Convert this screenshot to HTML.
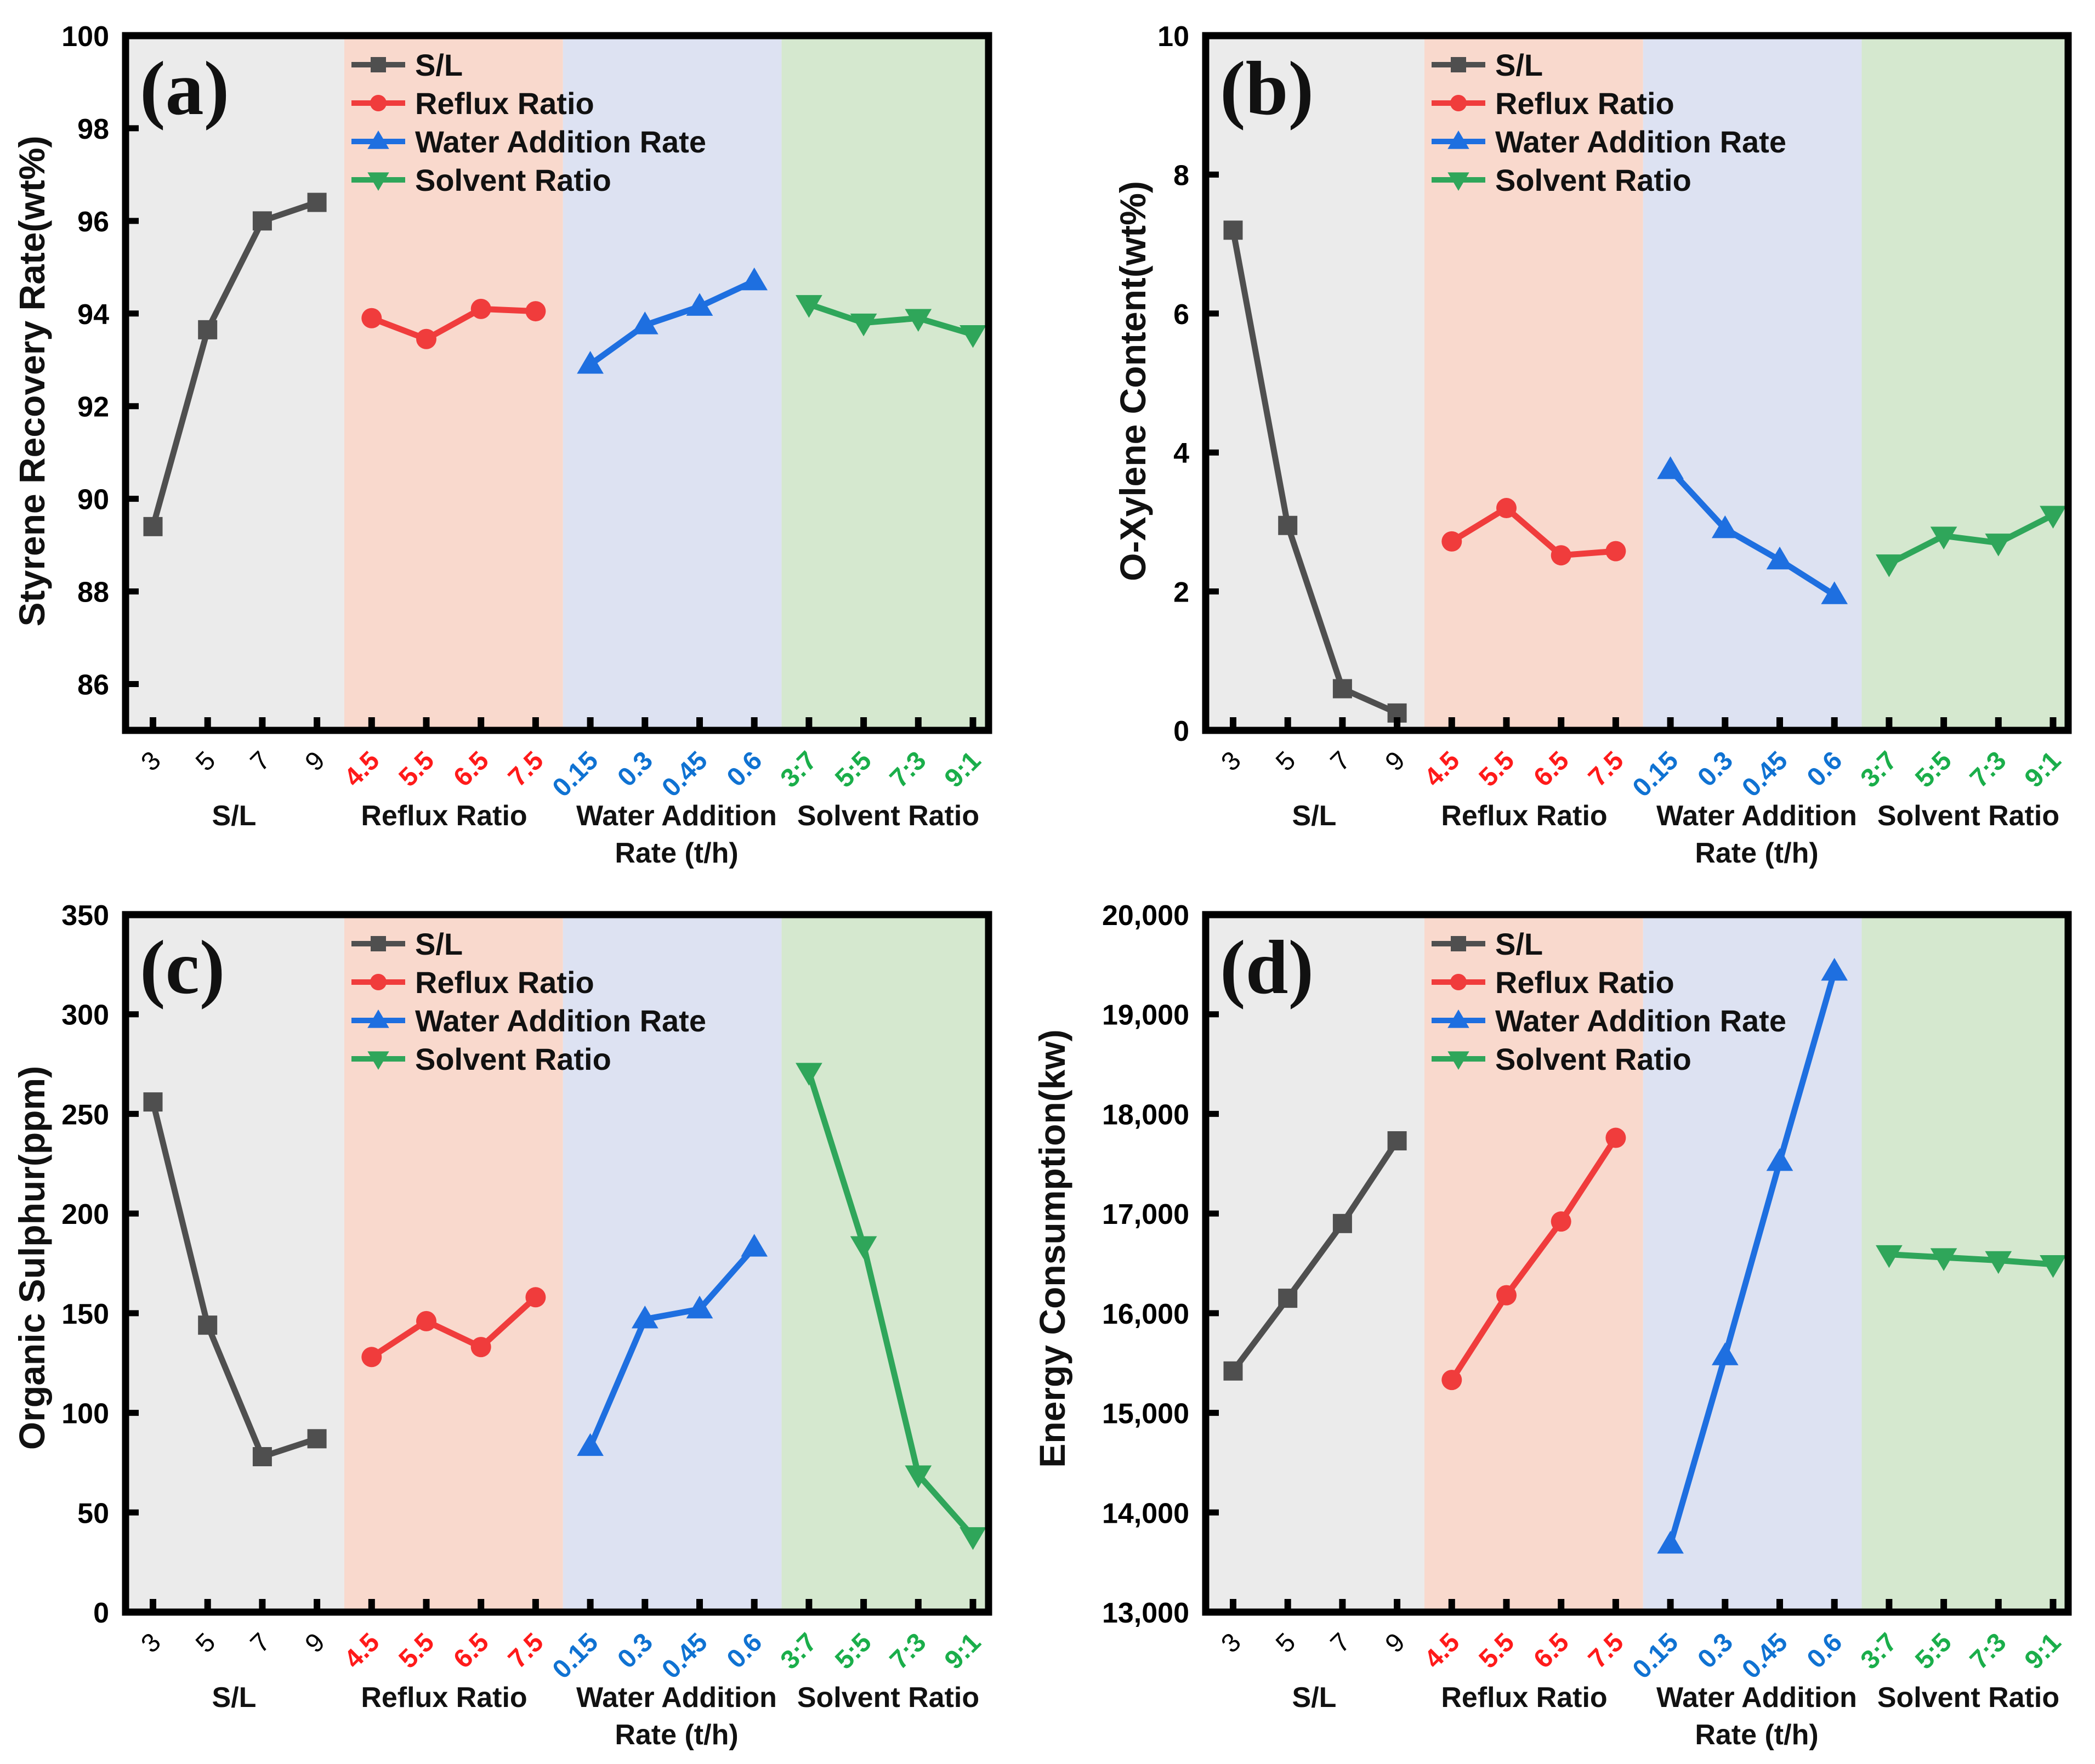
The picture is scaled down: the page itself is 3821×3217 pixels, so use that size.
<!DOCTYPE html>
<html><head><meta charset="utf-8"><style>
html,body{margin:0;padding:0;background:#fff;}
svg{display:block;font-family:"Liberation Sans",Arial,sans-serif;}
</style></head>
<body>
<svg id="fig" width="3821" height="3217" viewBox="0 0 3821 3217" xmlns="http://www.w3.org/2000/svg"></svg>
<script>
// ---- shared category data ----
const xLabels = ["3","5","7","9","4.5","5.5","6.5","7.5","0.15","0.3","0.45","0.6","3:7","5:5","7:3","9:1"];
const groupNames = ["S/L","Reflux Ratio","Water Addition","Solvent Ratio"];
const seriesNames = ["S/L","Reflux Ratio","Water Addition Rate","Solvent Ratio"];
// ---- panel (a) Styrene recovery rate ----
const aSL = [89.4, 93.65, 96.0, 96.4];
const aReflux = [93.9, 93.45, 94.1, 94.05];
const aWater = [92.9, 93.75, 94.15, 94.7];
const aSolvent = [94.2, 93.8, 93.9, 93.55];
const aTicks = [86, 88, 90, 92, 94, 96, 98, 100];
const aTickLabels = ["86","88","90","92","94","96","98","100"];
// ---- panel (b) O-xylene content ----
const bSL = [7.2, 2.95, 0.6, 0.25];
const bReflux = [2.72, 3.2, 2.52, 2.58];
const bWater = [3.75, 2.9, 2.45, 1.95];
const bSolvent = [2.4, 2.8, 2.7, 3.1];
const bTicks = [0, 2, 4, 6, 8, 10];
const bTickLabels = ["0","2","4","6","8","10"];
// ---- panel (c) organic sulphur ----
const cSL = [256, 144, 78, 87];
const cReflux = [128, 146, 133, 158];
const cWater = [83, 147, 152, 183];
const cSolvent = [271, 184, 69, 38];
const cTicks = [0, 50, 100, 150, 200, 250, 300, 350];
const cTickLabels = ["0","50","100","150","200","250","300","350"];
// ---- panel (d) energy consumption ----
const dSL = [15420, 16150, 16900, 17730];
const dReflux = [15330, 16180, 16920, 17760];
const dWater = [13680, 15570, 17520, 19430];
const dSolvent = [16590, 16560, 16530, 16490];
const dTicks = [13000, 14000, 15000, 16000, 17000, 18000, 19000, 20000];
const dTickLabels = ["13,000","14,000","15,000","16,000","17,000","18,000","19,000","20,000"];

const NS = "http://www.w3.org/2000/svg";
const svg = document.getElementById("fig");
const lineCols = ["#4f4f4f","#f03c3c","#1e6fe0","#2fa65a"];
const labCols = ["#000000","#ff1a1a","#0f72d2","#1aae4a"];
const bandCols = ["#ebebeb","#f9d9cd","#dde2f2","#d5e8cf"];
const markers = ["square","circle","up","down"];

function mk(tag, attrs, parent){
  const e = document.createElementNS(NS, tag);
  for (const k in attrs) e.setAttribute(k, attrs[k]);
  (parent||svg).appendChild(e);
  return e;
}
function marker(g, type, x, y, s, col){
  let e;
  if (type==="square"){ e = mk("rect",{x:x-s/2,y:y-s/2,width:s,height:s,fill:col},g); }
  else if (type==="circle"){ e = mk("circle",{cx:x,cy:y,r:s/2,fill:col},g); }
  else if (type==="up"){ const h=s*0.95; e = mk("polygon",{points:`${x},${y-h*0.62} ${x-s*0.58},${y+h*0.42} ${x+s*0.58},${y+h*0.42}`,fill:col},g); }
  else { const h=s*0.95; e = mk("polygon",{points:`${x},${y+h*0.62} ${x-s*0.58},${y-h*0.42} ${x+s*0.58},${y-h*0.42}`,fill:col},g); }
  return e;
}

const panels = [
  {id:"a", L:229, T:65, R:1803, B:1332, min:85, max:100, ticks:aTicks, tl:aTickLabels, series:[aSL,aReflux,aWater,aSolvent], title:"Styrene Recovery Rate(wt%)", tx:81, ty:695},
  {id:"b", L:2199, T:65, R:3772, B:1332, min:0, max:10, ticks:bTicks, tl:bTickLabels, series:[bSL,bReflux,bWater,bSolvent], title:"O-Xylene Content(wt%)", tx:2089, ty:695},
  {id:"c", L:229, T:1668, R:1803, B:2940, min:0, max:350, ticks:cTicks, tl:cTickLabels, series:[cSL,cReflux,cWater,cSolvent], title:"Organic Sulphur(ppm)", tx:81, ty:2294},
  {id:"d", L:2199, T:1668, R:3772, B:2940, min:13000, max:20000, ticks:dTicks, tl:dTickLabels, series:[dSL,dReflux,dWater,dSolvent], title:"Energy Consumption(kw)", tx:1942, ty:2277}
];

panels.forEach(p=>{
  const g = mk("g",{});
  
  
  const xs = i => p.L + 50 + i*99.7;
  const ys = v => p.B - (v - p.min)/(p.max - p.min)*(p.B - p.T);
  const edges = [p.L, (xs(3)+xs(4))/2, (xs(7)+xs(8))/2, (xs(11)+xs(12))/2, p.R];
  for (let k=0;k<4;k++){
    const r = mk("rect",{x:edges[k],y:p.T,width:edges[k+1]-edges[k],height:p.B-p.T,fill:bandCols[k]},g);
    
    
  }
  p.series.forEach((vals,k)=>{
    const sg = mk("g",{},g);
    
    
    const pts = vals.map((v,i)=>`${xs(4*k+i)},${ys(v)}`).join(" ");
    const pl = mk("polyline",{points:pts,fill:"none",stroke:lineCols[k],"stroke-width":11,"stroke-linejoin":"round"},sg);
    
    
    vals.forEach((v,i)=>{
      const m = marker(sg, markers[k], xs(4*k+i), ys(v), markers[k]==="square"?35:(markers[k]==="circle"?37:42), lineCols[k]);
      
      
    });
  });
  const fr = mk("rect",{x:p.L,y:p.T,width:p.R-p.L,height:p.B-p.T,fill:"none",stroke:"#000","stroke-width":13},g);
  
  
  p.ticks.forEach((t,i)=>{
    const y = ys(t);
    const tk = mk("line",{x1:p.L,y1:y,x2:p.L+24,y2:y,stroke:"#000","stroke-width":11},g);
    
    
    const lb = mk("text",{x:p.L-30,y:y+19,"text-anchor":"end","font-size":52,"font-weight":"bold",fill:"#000"},g);
    lb.textContent = p.tl[i];
    
    
  });
  xLabels.forEach((s,i)=>{
    const x = xs(i);
    const tk = mk("line",{x1:x,y1:p.B,x2:x,y2:p.B-24,stroke:"#000","stroke-width":12},g);
    
    
    const ex = x+17, ey = p.B+58;
    const k = Math.floor(i/4);
    const lb = mk("text",{x:ex,y:ey,"text-anchor":"end","font-size":48,"font-weight":k===0?"normal":"bold",fill:labCols[k],transform:`rotate(-45 ${ex} ${ey})`},g);
    lb.textContent = s;
    
    
  });
  const gx = [p.L+198, p.L+581, p.L+1005, p.L+1391];
  groupNames.forEach((n,k)=>{
    const t = mk("text",{x:gx[k],y:p.B+173,"text-anchor":"middle","font-size":52,"font-weight":"bold",fill:"#111"},g);
    t.textContent = n;
    
    
  });
  const t2 = mk("text",{x:p.L+1005,y:p.B+241,"text-anchor":"middle","font-size":52,"font-weight":"bold",fill:"#111"},g);
  t2.textContent = "Rate (t/h)";
  
  
  const yt = mk("text",{x:p.tx,y:p.ty,"text-anchor":"middle","font-size":66,"font-weight":"bold",fill:"#111",transform:`rotate(-90 ${p.tx} ${p.ty})`},g);
  yt.textContent = p.title;
  
  
  const pl = mk("text",{x:p.L+26,y:p.T+143,"font-size":140,"font-weight":"bold","font-family":"Liberation Serif, serif",fill:"#111"},g);
  pl.textContent = "(" + p.id + ")";
  
  
  const lg = mk("g",{},g);
  
  
  seriesNames.forEach((n,k)=>{
    const cy = p.T + 53 + k*70;
    const lx = p.L + 412;
    const en = mk("g",{},lg);
    
    
    mk("line",{x1:lx,y1:cy,x2:lx+98,y2:cy,stroke:lineCols[k],"stroke-width":10},en);
    marker(en, markers[k], lx+49, cy, markers[k]==="square"?28:(markers[k]==="circle"?30:34), lineCols[k]);
    const tt = mk("text",{x:lx+116,y:cy+20,"font-size":56,"font-weight":"bold",fill:"#111"},en);
    tt.textContent = n;
    
    
  });
});
</script>
</body></html>
